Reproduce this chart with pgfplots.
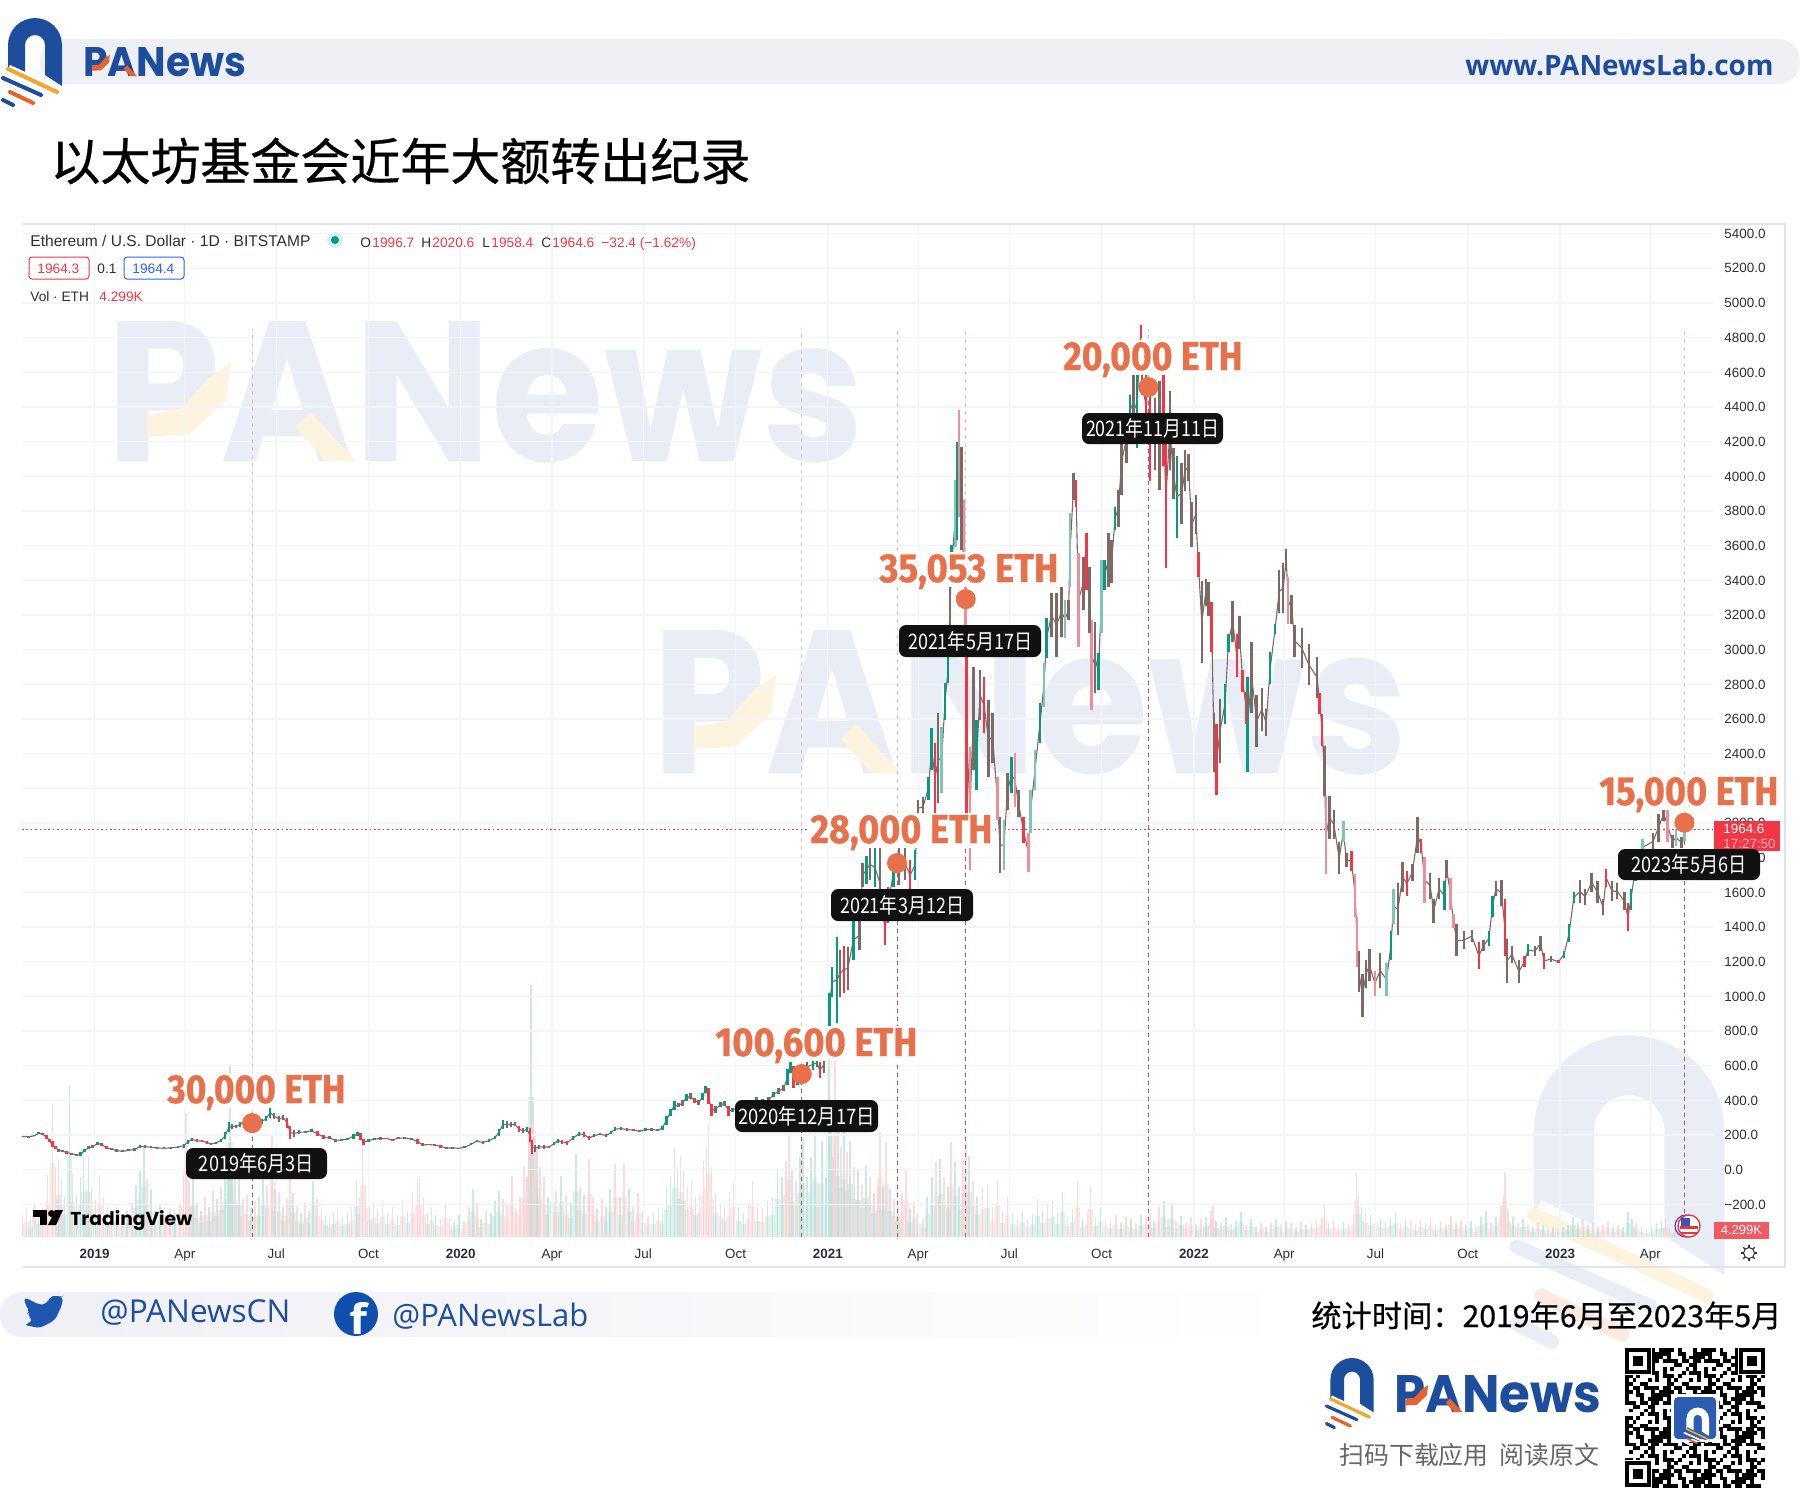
\documentclass[border=0pt]{standalone}
\usepackage{fontspec}
\usepackage{graphicx}
\usepackage{pgfplots}
\usepackage{pgfplotstable}
\pgfplotsset{compat=1.18}
\setmainfont{Liberation Sans}
\newfontfamily\cjk{Noto Sans CJK SC}
\newfontfamily\cjkm[FakeBold=0.6]{Noto Sans CJK SC}
\newfontfamily\pop{Poppins}
\newfontfamily\ethf[UprightFeatures={FakeBold=0.8},BoldFeatures={FakeBold=0.8}]{Fira Sans}
\newfontfamily\osans{Open Sans}
\definecolor{panblue}{HTML}{1D4E9E}
\definecolor{panyel}{HTML}{F2A62B}
\definecolor{panora}{HTML}{E9622B}
\definecolor{wmblue}{HTML}{E8EDF6}
\definecolor{wmyel}{HTML}{FDF3DE}
\definecolor{wmora}{HTML}{FCE9DF}
\definecolor{bandc}{HTML}{EFEFF6}
\definecolor{ethc}{HTML}{E8704A}
\definecolor{tvgreen}{HTML}{089981}
\definecolor{tvred}{HTML}{F23645}
\definecolor{tvbrown}{HTML}{7E6A64}
\definecolor{palered}{HTML}{EE8E98}
\definecolor{paleteal}{HTML}{7CC6B8}
\definecolor{volg}{HTML}{B5DFD8}
\definecolor{volr}{HTML}{F9CDCE}
\definecolor{gridc}{HTML}{F3F4F7}
\definecolor{dashs}{HTML}{C4525E}
\definecolor{dashf}{HTML}{E6BFC4}
\definecolor{tvtext}{HTML}{2A2E39}
\definecolor{framec}{HTML}{E0E3EB}
\definecolor{lblue}{HTML}{2962FF}
\definecolor{halo}{HTML}{D8F0EB}
\definecolor{timec}{HTML}{FFB3BA}
\definecolor{volbox}{HTML}{EF5A63}
\definecolor{flagp}{HTML}{8E24AA}
\definecolor{flagr}{HTML}{E53935}
\definecolor{flagb}{HTML}{3F51B5}
\definecolor{badge}{HTML}{111111}
\definecolor{twit}{HTML}{1D57B0}
\definecolor{fbc}{HTML}{0F4FB0}
\definecolor{subc}{HTML}{666666}
\definecolor{qrb}{HTML}{2B5DB5}
% fit text to width (px) and height (px); 1 px = 0.5 pt
\newcommand\fitwh[3]{\resizebox{\dimexpr#1pt/2\relax}{\dimexpr#2pt/2\relax}{#3}}
\newcommand\fitw[2]{\resizebox{\dimexpr#1pt/2\relax}{!}{#2}}
\newcommand\panlogo[7]{%
 \begin{scope}[shift={(#1,#2)},scale=#3]
 \fill[#4] (8,68)--(8,45) arc[start angle=180,end angle=360,radius=27] --(62,86)--(45,75)--(45,45) arc[start angle=360,end angle=180,radius=10] --(25,74)--cycle;
 \draw[#7,line width=#3*4.6pt] (8,69)--(57,92);
 \draw[#7,line width=#3*4.2pt] (3,78)--(41,95);
 \draw[#5,line cap=round,line width=#3*2pt] (8,69)--(57,92);
 \draw[#4,line cap=round,line width=#3*2pt] (3,78)--(41,95);
 \draw[#6,line cap=round,line width=#3*2pt] (10,92)--(33,103);
 \draw[#4,line cap=round,line width=#3*2pt] (3,100)--(13,105);
 \end{scope}}
% word mark: left x, baseline y, width and cap height in px
\newcommand\panword[6]{%
 \node[anchor=base west,inner sep=0pt,text=#5] at (#1,#2) {\fitwh{#3}{#4}{\pop\bfseries PANews}};
 \begin{scope}[shift={(#1,#2)},scale=#3/100]
 \fill[#6] (5.5,-3.2)--(11,-3.5)--(15.8,-8)--(16.5,-13)--(13.5,-11)--(10,-7)--(5.5,-6)--cycle;
 \fill[#6] (27,-6.5)--(33,0)--(29,0)--(25,-4.5)--cycle;
 \end{scope}}
\pgfplotstableread[row sep=\\]{
x l h k\\
-72 188 196 2\\ -66 186 194 2\\ -60 192 200 0\\ -56 205 216 0\\ -52 200 212 1\\ -48 176 203 1\\ -45 158 176 1\\ -42 130 165 1\\ -39 118 135 1\\ -36 105 122 2\\ -32 100 115 2\\ -28 92 108 1\\ -23 86 98 2\\ -18 80 92 2\\ -14 78 100 0\\ -10 100 122 0\\ -6 118 135 2\\ -2 125 142 2\\ 3 142 160 0\\ 7 138 155 1\\ 12 118 135 1\\ 17 112 126 2\\ 22 104 118 2\\ 28 100 112 2\\ 34 106 118 0\\ 40 110 124 2\\ 45 125 142 0\\ 50 128 140 2\\ 56 124 136 2\\ 62 120 132 2\\ 69 118 130 2\\ 76 120 132 2\\ 83 124 136 2\\ 89 128 150 0\\ 93 150 172 0\\ 97 165 185 0\\ 102 160 175 1\\ 107 158 172 2\\ 112 150 165 1\\ 116 140 156 2\\ 121 148 162 0\\ 126 160 178 0\\ 130 175 215 0\\ 134 215 275 0\\ 137 235 265 2\\ 141 240 260 2\\ 145 248 275 0\\ 149 258 282 2\\ 153 245 270 2\\ 158 245 270 1\\ 163 250 272 2\\ 167 265 295 0\\ 171 280 310 0\\ 175 300 360 0\\ 179 290 330 2\\ 184 275 310 2\\ 188 285 318 2\\ 192 240 300 1\\ 195 180 250 1\\ 199 190 230 2\\ 204 205 228 0\\ 210 210 225 2\\ 216 215 235 0\\ 222 195 222 1\\ 228 180 200 1\\ 234 175 192 2\\ 240 162 180 2\\ 246 165 178 0\\ 252 170 185 0\\ 258 180 205 0\\ 262 195 218 0\\ 265 170 210 1\\ 268 140 178 1\\ 273 158 178 0\\ 279 170 185 2\\ 285 170 190 2\\ 291 175 185 2\\ 297 165 180 1\\ 303 175 190 2\\ 309 178 188 2\\ 316 170 185 2\\ 322 150 175 1\\
327 135 152 2\\ 333 140 150 2\\ 339 138 148 2\\ 345 128 142 1\\ 351 120 130 2\\ 357 122 130 2\\ 363 120 128 2\\ 369 125 135 0\\ 375 140 152 0\\ 381 158 172 0\\ 387 150 165 1\\ 393 160 175 0\\ 399 175 195 0\\ 403 195 235 0\\ 407 235 285 0\\ 411 240 280 2\\ 415 245 275 2\\ 419 250 275 2\\ 423 215 255 1\\ 427 210 240 2\\ 431 220 245 0\\ 434 160 240 1\\ 436 90 170 1\\ 439 105 145 2\\ 443 120 145 2\\ 448 122 140 2\\ 453 125 138 2\\ 458 140 160 0\\ 462 155 180 0\\ 466 150 170 1\\ 471 145 165 1\\ 477 170 195 0\\ 483 195 220 0\\ 488 190 215 1\\ 493 170 195 1\\ 498 190 205 0\\ 504 198 212 2\\ 510 190 205 2\\ 515 205 225 0\\ 519 225 245 0\\ 525 230 245 2\\ 531 225 240 2\\ 537 222 235 1\\ 543 215 230 2\\ 549 225 240 0\\ 555 225 240 2\\ 561 222 235 2\\ 566 230 250 0\\ 570 260 310 0\\ 574 310 350 0\\ 578 345 395 0\\ 582 360 385 2\\ 586 365 400 2\\ 590 395 435 0\\ 594 410 440 2\\ 598 385 415 1\\ 602 375 400 2\\ 606 400 440 0\\ 609 440 485 0\\ 612 380 470 1\\ 615 310 380 1\\ 619 325 370 2\\ 624 360 390 0\\ 628 370 395 2\\ 632 310 370 1\\ 636 335 355 0\\ 641 350 365 0\\ 647 340 370 2\\ 655 370 395 0\\ 660 370 420 2\\ 666 385 410 0\\ 672 385 420 2\\ 677 420 450 0\\ 682 435 470 2\\ 687 455 490 2\\ 691 490 580 0\\ 694 560 620 0\\ 697 470 600 1\\ 701 490 560 0\\ 705 530 590 2\\ 710 565 620 0\\ 716 575 640 0\\ 720 590 645 0\\ 723 530 620 1\\ 727 560 650 2\\ 730 640 760 0\\
732.5 806 1017 0\\ 735 998 1171 0\\ 740 844 1344 0\\ 743 998 1267 2\\ 747 1020 1290 1\\ 751 1037 1287 2\\ 756.4 1210 1440 0\\ 762.4 1267 1440 2\\ 765.7 1633 1767 2\\ 769.5 1650 1810 0\\ 773 1671 1854 2\\ 778 1633 1854 0\\ 783 1440 1864 2\\ 788 1296 1460 1\\ 791 1421 1633 2\\ 796.3 1633 1787 0\\ 802 1640 1870 2\\ 808 1671 1864 2\\ 813 1613 1787 1\\ 818 1671 1844 0\\ 821 2037 2133 2\\ 826 2037 2152 2\\ 831.2 2133 2267 0\\ 834.5 2306 2546 0\\ 838 2056 2460 1\\ 841 2113 2633 2\\ 844.5 2171 2556 4\\ 847.8 2594 2806 0\\ 851 2806 2979 0\\
852.8 3133 3383 2\\ 854.5 3383 3604 0\\ 858.5 3594 3979 4\\ 860 3633 4200 0\\ 861.8 3767 4383 3\\ 864.5 3575 4171 2\\ 866 3363 3863 3\\ 868 3037 3363 3\\ 869.4 2056 2960 1\\ 872.7 1729 2440 3\\ 876 2306 2902 2\\ 879.4 2190 2594 0\\ 882.7 2594 2883 2\\ 886.7 2517 2844 1\\ 891 2267 2710 2\\ 895.3 2344 2633 2\\ 900 2017 2267 3\\ 902.6 1710 2037 2\\ 906.6 1729 2017 4\\ 910 2075 2287 2\\ 914 2171 2383 0\\ 917.6 2094 2402 3\\ 921 2037 2190 2\\ 926 1883 2037 1\\ 930.9 1719 1940 3\\ 933 1940 2190 4\\ 937.5 2190 2421 4\\ 942.5 2460 2690 0\\
946.5 2671 2921 4\\ 949 2950 3181 0\\ 954 3075 3325 2\\ 959 2960 3325 2\\ 964 3075 3363 2\\ 967.5 3065 3287 4\\ 971 3171 3287 2\\ 972.5 3363 3787 4\\ 976 3863 4017 2\\ 978.5 3825 3979 1\\ 980.8 3017 3556 3\\ 985.7 3229 3537 2\\ 989 3344 3671 1\\ 991.7 3094 3479 2\\ 994 2652 3171 3\\ 997.4 2748 3161 2\\ 1000.7 2767 2979 0\\ 1004 3094 3517 4\\ 1007 3344 3517 0\\ 1010.7 3363 3671 2\\ 1014 3383 3633 2\\ 1017.3 3690 3825 0\\ 1020.6 3710 3921 2\\
1024 3893 4285 2\\ 1029 4078 4367 2\\ 1032 4285 4470 0\\ 1035.6 4223 4635 2\\ 1039 4161 4614 0\\ 1043 4800 4872 1\\ 1044 4470 4604 2\\ 1048 4243 4594 1\\ 1052 3975 4532 1\\ 1057.2 4037 4450 2\\ 1061.6 3924 4553 2\\ 1065.5 4058 4594 1\\ 1068 3470 4285 1\\ 1072 4037 4491 2\\ 1075.5 3872 4161 2\\ 1079 3645 4120 0\\ 1083.8 3728 4078 2\\ 1087 3913 4151 2\\ 1090.5 3975 4130 2\\ 1093.8 3594 3852 2\\ 1097.8 3666 3893 2\\ 1100.4 3419 3563 1\\ 1103.8 2924 3398 2\\ 1107.8 3254 3408 2\\ 1110.4 3192 3388 2\\ 1113.7 2986 3274 1\\ 1116 2295 2635 2\\ 1118.7 2161 2573 1\\ 1122 2346 2717 2\\ 1127 2573 2800 0\\ 1130.3 2986 3089 0\\ 1134.6 3047 3284 2\\ 1138.7 2841 3089 1\\ 1141.3 3006 3192 2\\ 1144.6 2759 2882 1\\ 1148 2573 2759 1\\ 1149.3 2295 2841 0\\ 1153.6 2635 3047 2\\ 1158.6 2439 2738 2\\ 1163.6 2532 2779 2\\ 1168 2501 2656 2\\ 1172 2800 2986 0\\ 1176.9 3089 3151 0\\ 1181 3212 3460 2\\ 1185 3212 3501 2\\ 1188 3460 3583 2\\ 1190 3150 3418 3\\ 1193.5 3150 3315 2\\
1196.4 2959 3144 2\\ 1203.5 2897 3123 2\\ 1210.6 2794 3031 2\\ 1218.8 2722 2959 2\\ 1221.3 2630 2753 1\\ 1223.8 2444 2630 1\\ 1226 2156 2444 2\\ 1227.7 1704 2156 3\\ 1231 1910 2156 2\\ 1235.5 1910 2074 2\\ 1240.8 1704 1889 2\\ 1245 1889 2012 4\\ 1248 1745 1827 2\\ 1253 1725 1838 1\\ 1256.8 1457 1704 3\\ 1258.6 1169 1457 3\\ 1260.4 1025 1262 2\\ 1264 881 1128 2\\ 1267.5 1046 1210 2\\ 1271 1087 1272 2\\ 1276.4 1004 1149 3\\ 1281.7 1046 1251 2\\ 1288 1004 1190 4\\ 1292.4 1210 1375 0\\ 1295 1416 1622 4\\ 1299.5 1354 1653 2\\ 1304 1601 1776 2\\ 1308.4 1580 1724 1\\ 1313.7 1663 1766 2\\ 1319 1827 2033 2\\ 1322.6 1827 1910 1\\ 1326 1539 1807 3\\ 1331.5 1560 1714 2\\ 1335 1426 1560 2\\ 1340.4 1560 1683 2\\ 1345.7 1498 1663 0\\ 1348 1683 1786 2\\ 1351.7 1498 1683 3\\ 1354.6 1395 1477 3\\ 1358 1231 1416 2\\ 1365 1272 1375 2\\ 1373 1313 1385 2\\ 1380 1159 1313 1\\ 1384.8 1262 1323 2\\ 1390 1292 1375 0\\ 1393.7 1457 1580 0\\ 1397 1580 1663 2\\ 1402.6 1519 1673 2\\ 1406 1231 1560 1\\ 1408 1077 1334 2\\ 1413 1190 1292 2\\ 1420 1077 1210 2\\ 1425.6 1169 1231 1\\ 1429 1231 1303 0\\ 1436 1231 1292 2\\ 1441.6 1262 1350 2\\ 1445 1159 1251 1\\ 1452 1200 1231 2\\ 1459.4 1190 1210 1\\ 1465 1221 1262 0\\ 1470 1313 1416 0\\ 1474.7 1539 1601 0\\ 1480.8 1539 1673 2\\ 1486 1529 1622 2\\ 1492.5 1601 1714 2\\ 1498.5 1539 1663 2\\ 1504 1467 1560 2\\ 1507 1632 1735 1\\ 1513 1550 1663 2\\ 1518 1560 1653 2\\ 1525 1498 1601 2\\ 1528.7 1375 1539 1\\ 1531.6 1498 1622 0\\ 1536 1663 1807 0\\ 1543 1807 1910 4\\ 1553.6 1848 1940 2\\ 1559 1889 2054 2\\ 1564.3 2012 2095 2\\ 1568 1889 2095 3\\ 1573 1858 1930 2\\ 1576.7 1868 1961 4\\ 1582 1858 1920 2\\ 1585 1899 1961 4\\
}\pricetable
\pgfplotstableread[row sep=\\]{
x v k\\
-72 22 1\\ -68 28 1\\ -64 18 0\\ -60 34 1\\ -56 24 0\\ -52 30 1\\ -47 62 1\\ -42 134 1\\ -39 70 1\\ -36 76 0\\ -33 58 1\\ -30 40 0\\ -25 151 0\\ -22 64 1\\ -18 42 0\\ -14 60 0\\ -11 81 0\\ -8 48 1\\ -6 81 0\\ -3 50 1\\ 1 36 0\\ 5 62 1\\ 9 40 1\\ 13 30 0\\ 17 24 1\\ 22 30 0\\ 27 20 1\\ 32 26 0\\ 37 34 1\\ 41 52 0\\ 45 66 0\\ 49 91 0\\ 52 58 1\\ 56 48 0\\ 60 26 1\\ 65 32 0\\ 70 22 1\\ 75 28 1\\ 80 24 0\\ 85 34 1\\ 89 60 1\\ 91 124 1\\ 94 56 1\\ 98 60 0\\ 102 34 1\\ 106 26 0\\ 110 40 1\\ 114 30 0\\ 118 46 1\\ 122 38 0\\ 126 50 1\\ 130 62 0\\ 133 70 0\\ 135 172 0\\ 137 86 0\\ 140 64 1\\ 144 58 0\\ 148 38 1\\ 152 42 1\\ 156 30 0\\ 160 36 1\\ 164 40 0\\ 168 60 0\\ 172 52 1\\ 177 101 1\\ 180 48 0\\ 184 44 1\\ 188 30 0\\ 192 38 1\\ 195 61 1\\ 198 44 0\\ 202 30 1\\ 206 24 0\\ 210 34 1\\ 214 26 0\\ 218 56 0\\ 222 38 1\\ 226 30 1\\ 230 22 0\\ 234 18 1\\ 238 24 0\\ 242 30 1\\ 247 20 0\\ 252 24 0\\ 256 30 1\\ 261 56 0\\ 264 40 1\\ 267 94 1\\ 270 52 1\\ 274 30 0\\ 278 34 1\\ 282 26 0\\ 287 36 1\\ 292 24 0\\ 297 30 1\\ 302 22 0\\ 307 38 1\\ 312 26 0\\ 317 44 1\\ 322 58 1\\
324 58 1\\ 328 40 1\\ 332 24 0\\ 336 30 1\\ 340 22 0\\ 345 18 1\\ 350 34 1\\ 354 20 1\\ 358 14 0\\ 363 22 0\\ 368 16 1\\ 373 30 1\\ 377 48 0\\ 381 34 1\\ 385 18 0\\ 390 26 1\\ 395 24 0\\ 399 36 0\\ 403 46 0\\ 407 38 1\\ 411 32 1\\ 416 61 1\\ 420 28 1\\ 424 40 1\\ 428 71 1\\ 431 60 1\\ 433 110 1\\ 435 252 0\\ 437 140 1\\ 439 106 1\\ 441 90 0\\ 444 70 1\\ 448 60 1\\ 452 40 0\\ 456 64 0\\ 460 46 1\\ 465 61 0\\ 470 42 1\\ 475 34 0\\ 480 83 0\\ 484 50 1\\ 488 42 0\\ 493 78 1\\ 497 40 1\\ 501 28 0\\ 506 38 1\\ 510 30 0\\ 514 48 0\\ 519 73 1\\ 524 40 0\\ 528 73 1\\ 533 48 0\\ 537 30 1\\ 542 44 1\\ 547 26 0\\ 552 20 1\\ 557 24 0\\ 562 30 1\\ 566 24 0\\ 570 50 0\\ 574 60 0\\ 578 89 0\\ 581 70 0\\ 584 81 1\\ 587 66 0\\ 591 50 1\\ 595 56 1\\ 599 40 0\\ 603 44 1\\ 607 76 1\\ 610 90 1\\ 612 114 1\\ 615 70 1\\ 619 44 0\\ 624 34 1\\ 628 30 0\\ 633 40 1\\ 637 54 1\\ 642 30 0\\ 647 24 0\\ 652 32 1\\ 656 56 1\\ 661 30 0\\ 666 28 1\\ 671 36 0\\ 676 40 0\\ 681 69 0\\ 685 60 0\\ 689 76 1\\ 692 104 1\\ 695 66 0\\ 699 56 1\\ 703 80 0\\ 706 99 0\\ 710 60 0\\ 714 80 0\\ 718 104 0\\ 721 54 1\\ 725 96 0\\ 729 60 0\\ 732 184 0\\ 734 120 0\\ 736 80 1\\ 738 187 1\\
741 111 0\\ 744 90 1\\ 747 105 0\\ 750 85 1\\ 753 96 0\\ 757 70 1\\ 761 68 0\\ 765 52 1\\ 769 71 0\\ 773 60 1\\ 777 44 0\\ 781 50 1\\ 783 105 1\\ 786 50 0\\ 789 95 1\\ 793 48 0\\ 797 38 1\\ 801 30 0\\ 805 44 1\\ 809 66 1\\ 813 28 0\\ 817 35 1\\ 821 24 0\\ 826 18 1\\ 830 40 0\\ 835 60 0\\ 839 75 1\\ 843 78 0\\ 847 60 1\\ 851 50 0\\ 854 95 1\\ 858 75 0\\ 862 50 0\\ 866 78 1\\ 869 95 1\\ 872 81 0\\ 876 56 1\\ 880 40 0\\ 885 50 1\\ 890 53 0\\ 895 30 1\\ 900 56 1\\ 905 26 0\\ 910 40 1\\ 915 24 0\\ 920 18 1\\ 925 26 0\\ 930 18 1\\ 935 22 0\\ 940 38 0\\ 945 26 0\\ 950 32 1\\ 955 36 0\\ 960 24 0\\ 965 45 0\\ 970 20 1\\ 975 28 0\\ 980 55 1\\ 985 18 0\\ 990 24 1\\ 993 51 1\\ 998 20 0\\ 1003 30 0\\ 1008 18 1\\ 1013 16 0\\ 1018 22 1\\ 1023 14 0\\ 1028 20 1\\ 1033 18 0\\ 1038 14 1\\ 1043 22 0\\ 1048 20 1\\ 1052 24 1\\ 1056 16 0\\ 1061 30 1\\ 1066 36 0\\ 1070 18 1\\ 1074 34 0\\ 1078 16 1\\ 1083 21 0\\ 1088 14 1\\ 1093 20 1\\ 1098 12 0\\ 1103 18 1\\ 1108 20 0\\ 1113 26 1\\ 1115 31 1\\ 1118 16 0\\ 1123 14 1\\ 1128 20 0\\ 1133 12 1\\ 1138 16 0\\ 1143 25 0\\ 1148 12 1\\ 1153 18 0\\ 1158 10 0\\ 1163 14 1\\ 1168 10 0\\ 1173 14 1\\ 1178 18 0\\ 1183 12 1\\ 1188 16 0\\ 1193 14 1\\ 1198 10 0\\ 1203 15 1\\ 1208 12 0\\ 1213 14 1\\ 1218 18 1\\ 1223 20 1\\ 1226 33 1\\ 1230 14 0\\ 1235 16 1\\ 1240 12 1\\ 1245 15 0\\ 1250 14 1\\ 1255 22 1\\ 1258 65 1\\ 1260 41 0\\ 1263 30 0\\ 1267 25 1\\ 1272 22 0\\ 1277 26 1\\ 1282 18 0\\ 1287 16 1\\ 1292 20 0\\ 1297 25 0\\ 1302 14 1\\ 1307 18 0\\ 1312 16 1\\ 1317 12 0\\ 1322 18 1\\ 1327 14 0\\ 1332 20 1\\ 1337 12 0\\ 1342 16 1\\ 1347 12 0\\ 1352 21 1\\ 1357 14 0\\ 1362 16 1\\ 1367 12 0\\ 1372 16 0\\ 1377 10 1\\ 1382 20 0\\ 1387 26 0\\ 1392 14 1\\ 1397 20 0\\ 1402 31 1\\ 1405 42 1\\ 1406 65 1\\ 1409 28 1\\ 1414 20 0\\ 1419 14 1\\ 1424 18 0\\ 1429 12 1\\ 1434 10 0\\ 1439 14 1\\ 1444 12 0\\ 1449 8 1\\ 1454 10 0\\ 1459 8 1\\ 1464 10 0\\ 1469 12 0\\ 1474 20 0\\ 1479 14 0\\ 1484 18 1\\ 1489 12 0\\ 1494 14 1\\ 1499 10 0\\ 1504 12 1\\ 1509 16 1\\ 1514 10 0\\ 1519 12 1\\ 1524 10 0\\ 1529 25 0\\ 1533 18 0\\ 1537 14 1\\ 1542 10 0\\ 1547 8 1\\ 1552 10 0\\ 1557 14 0\\ 1562 16 0\\ 1566 18 1\\ 1570 10 1\\ 1575 8 0\\ 1580 8 1\\ 1585 6 1\\
}\voltable
\pgfplotsset{
 box/.style={at={(11pt,-618.5pt)},anchor=south west,scale only axis,width=845.5pt,height=506.5pt,xmin=-72.4,xmax=1613.5,clip=true},
 cand/.style n args={2}{draw=none,mark=none,unbounded coords=discard,restrict expr to domain={\thisrow{k}}{#1:#1},
   error bars/.cd,y dir=plus,y explicit,error mark=none,error bar style={draw=#2,solid,line width=1.25pt}},
 vbar/.style n args={2}{ycomb,draw=#2,line width=0.8pt,mark=none,opacity=0.7,unbounded coords=discard,restrict expr to domain={\thisrow{k}}{#1:#1}},
}
\begin{document}
\begin{tikzpicture}
\useasboundingbox (0pt,0pt) rectangle (904.5pt,-752.5pt);
% ---- backdrop: watermarks ----
\begin{scope}[x=0.5pt,y=-0.5pt]
 \panword{106}{461}{757}{140}{wmblue}{wmyel}
 \panword{652}{773}{755}{143}{wmblue}{wmyel}
 \panlogo{1506}{972}{3.52}{wmblue}{wmyel}{wmora}{white}
\end{scope}
% ---- volume ----
\begin{axis}[box,ymin=0,ymax=1013,hide axis]
 \addplot[vbar={1}{volr},line width=2.6pt,opacity=0.45] table[x=x,y expr=\thisrow{v}*0.55] {\voltable};
 \addplot[vbar={0}{volg},line width=2.6pt,opacity=0.45] table[x=x,y expr=\thisrow{v}*0.55] {\voltable};
 \addplot[vbar={1}{volr}] table[x=x,y=v] {\voltable};
 \addplot[vbar={0}{volg}] table[x=x,y=v] {\voltable};
\end{axis}
% ---- price ----
\begin{axis}[box,ymin=-388,ymax=5456,
  axis line style={draw=none},major tick length=0pt,
  grid=major,grid style={gridc,line width=0.6pt},
  xtick={0,90,181,273,365,456,547,639,731,821,912,1004,1096,1186,1277,1369,1461,1551},
  xticklabels={\bfseries 2019,Apr,Jul,Oct,\bfseries 2020,Apr,Jul,Oct,\bfseries 2021,Apr,Jul,Oct,\bfseries 2022,Apr,Jul,Oct,\bfseries 2023,Apr},
  ytick={-200,0,200,400,600,800,1000,1200,1400,1600,1800,2000,2200,2400,2600,2800,3000,3200,3400,3600,3800,4000,4200,4400,4600,4800,5000,5200,5400},
  yticklabels={−200.0,0.0,200.0,400.0,600.0,800.0,1000.0,1200.0,1400.0,1600.0,1800.0,2000.0,2200.0,2400.0,2600.0,2800.0,3000.0,3200.0,3400.0,3600.0,3800.0,4000.0,4200.0,4400.0,4600.0,4800.0,5000.0,5200.0,5400.0},
  yticklabel pos=right,
  tick label style={font=\fontsize{6.7}{8}\selectfont,text=tvtext},
  xticklabel style={yshift=-2.6pt},
  yticklabel style={xshift=2.2pt},
 ]
 % event lines
 \addplot[dashf,line width=0.5pt,dash pattern=on 2pt off 2pt] coordinates {(157,269)(157,4850)};
 \addplot[dashf,line width=0.5pt,dash pattern=on 2pt off 2pt] coordinates {(705,552)(705,4850)};
 \addplot[dashf,line width=0.5pt,dash pattern=on 2pt off 2pt] coordinates {(800,1769)(800,4850)};
 \addplot[dashf,line width=0.5pt,dash pattern=on 2pt off 2pt] coordinates {(868.5,3292)(868.5,4850)};
 \addplot[dashf,line width=0.5pt,dash pattern=on 2pt off 2pt] coordinates {(1050.5,4515)(1050.5,4850)};
 \addplot[dashf,line width=0.5pt,dash pattern=on 2pt off 2pt] coordinates {(1585,2002)(1585,4850)};
 \addplot[dashs,line width=0.4pt,dash pattern=on 2pt off 2pt] coordinates {(157,-388)(157,269)};
 \addplot[dashs,line width=0.4pt,dash pattern=on 2pt off 2pt] coordinates {(705,-388)(705,552)};
 \addplot[dashs,line width=0.4pt,dash pattern=on 2pt off 2pt] coordinates {(800,-388)(800,1769)};
 \addplot[dashs,line width=0.4pt,dash pattern=on 2pt off 2pt] coordinates {(868.5,-388)(868.5,3292)};
 \addplot[dashs,line width=0.4pt,dash pattern=on 2pt off 2pt] coordinates {(1050.5,-388)(1050.5,4515)};
 \addplot[dashs,line width=0.4pt,dash pattern=on 2pt off 2pt] coordinates {(1585,-388)(1585,2002)};
 % last price line
 \addplot[tvred,line width=0.5pt,dash pattern=on 0.8pt off 1.4pt] coordinates {(-72.4,1964.6)(1613.5,1964.6)};
 % candles
 \addplot[tvbrown,line width=0.55pt,mark=none] table[x=x,y expr=(\thisrow{l}+\thisrow{h})/2] {\pricetable};
 \addplot[cand={3}{palered}] table[x=x,y=l,y error plus expr=\thisrow{h}-\thisrow{l}] {\pricetable};
 \addplot[cand={4}{paleteal}] table[x=x,y=l,y error plus expr=\thisrow{h}-\thisrow{l}] {\pricetable};
 \addplot[cand={2}{tvbrown}] table[x=x,y=l,y error plus expr=\thisrow{h}-\thisrow{l}] {\pricetable};
 \addplot[cand={0}{tvgreen}] table[x=x,y=l,y error plus expr=\thisrow{h}-\thisrow{l}] {\pricetable};
 \addplot[cand={1}{tvred}] table[x=x,y=l,y error plus expr=\thisrow{h}-\thisrow{l}] {\pricetable};
\end{axis}
% ---- everything else, in reference pixels ----
\begin{scope}[x=0.5pt,y=-0.5pt]
 % header
 \fill[bandc,rounded corners=11pt] (40,39) rectangle (1800,84);
 \panlogo{0}{0}{1}{panblue}{panyel}{panora}{white}
 \panword{83}{76}{163}{29}{panblue}{panora}
 \node[anchor=base west,inner sep=0pt,text=panblue] at (1465,75) {\fitw{308}{\osans\bfseries www.PANewsLab.com}};
 \node[anchor=base west,inner sep=0pt] at (50,180) {\fitw{700}{\cjkm 以太坊基金会近年大额转出纪录}};
 % frame
 \draw[framec,line width=0.6pt] (23,224)--(1785,224)--(1785,1267)--(23,1267);
 % chart legend
 \node[anchor=base west,inner sep=0pt,text=tvtext] at (30,246) {\fitw{280}{Ethereum / U.S. Dollar · 1D · BITSTAMP}};
 \fill[halo] (335,240) circle [radius=8];
 \fill[tvgreen] (335,240) circle [radius=4];
 \begin{scope}[every node/.style={anchor=base west,inner sep=0pt,font=\fontsize{6.85}{8}\selectfont}]
 \node[text=tvtext] at (360,247) {O};
 \node[text=tvred] at (372,247) {1996.7};
 \node[text=tvtext] at (421,247) {H};
 \node[text=tvred] at (432,247) {2020.6};
 \node[text=tvtext] at (482,247) {L};
 \node[text=tvred] at (491,247) {1958.4};
 \node[text=tvtext] at (541,247) {C};
 \node[text=tvred] at (552,247) {1964.6};
 \node[text=tvred] at (601,247) {−32.4 (−1.62\%)};
 \node[text=tvtext] at (97,273) {0.1};
 \node[text=tvred] at (37,273) {1964.3};
 \node[text=lblue] at (132,273) {1964.4};
 \node[text=tvtext] at (30,301) {Vol · ETH};
 \node[text=tvred] at (99,301) {4.299K};
 \end{scope}
 \draw[tvred,rounded corners=1.5pt,line width=0.5pt] (29,257) rectangle (89,279);
 \draw[lblue,rounded corners=1.5pt,line width=0.5pt] (124,257) rectangle (184,279);
 % axis-side tags
 \fill[tvred] (1714,821) rectangle (1780,851);
 \node[anchor=base west,inner sep=0pt,text=white,font=\fontsize{6.7}{8}\selectfont] at (1723,833) {1964.6};
 \node[anchor=base west,inner sep=0pt,text=timec,font=\fontsize{6.7}{8}\selectfont] at (1723,848) {17:27:50};
 \fill[volbox] (1714,1222) rectangle (1769,1239);
 \node[anchor=center,inner sep=0pt,text=white,font=\fontsize{6.5}{8}\selectfont] at (1741.5,1230.5) {4.299K};
 % gear
 \draw[tvtext,line width=0.5pt] (1749,1253) circle [radius=5.5];
 \foreach \a in {0,45,...,315} \draw[tvtext,line width=0.6pt] (1749,1253)++(\a:5.5)--++(\a:2.5);
 % flag
 \draw[flagp,line width=0.6pt] (1686,1226) circle [radius=11];
 \fill[white] (1689,1226) circle [radius=11];
 \draw[flagr,line width=0.7pt] (1689,1226) circle [radius=11];
 \fill[flagr] (1680,1226) rectangle (1698,1229);
 \fill[flagr] (1681,1232) rectangle (1697,1234);
 \fill[flagb] (1681,1218) rectangle (1690,1226);
 % TradingView mark
 \fill[black] (33,1210) rectangle (47,1217);
 \fill[black] (40,1217) rectangle (47,1225);
 \fill[black] (51.5,1213.5) circle [radius=3.5];
 \fill[black] (55,1210)--(63,1210)--(56,1225)--(48,1225)--cycle;
 \node[anchor=base west,inner sep=0pt,text=black] at (70,1225) {\fitw{122}{\pop\bfseries TradingView}};
 % ETH labels, on white plates as in the reference
 \fill[white] (164,1073) rectangle (348,1108);
 \fill[white] (712,1026) rectangle (920,1061);
 \fill[white] (807,813) rectangle (995,848);
 \fill[white] (876,552) rectangle (1061,587);
 \fill[white] (1060,340) rectangle (1245,375);
 \fill[white] (1596,775) rectangle (1781,810);
 \begin{scope}[every node/.style={anchor=base west,inner sep=0pt,text=ethc}]
 \node at (167,1103) {\fitwh{178}{28}{\ethf\bfseries 30,000 ETH}};
 \node at (715,1056) {\fitwh{202}{28}{\ethf\bfseries 100,600 ETH}};
 \node at (810,843) {\fitwh{182}{28}{\ethf\bfseries 28,000 ETH}};
 \node at (879,582) {\fitwh{179}{28}{\ethf\bfseries 35,053 ETH}};
 \node at (1063,370) {\fitwh{179}{28}{\ethf\bfseries 20,000 ETH}};
 \node at (1599,805) {\fitwh{179}{28}{\ethf\bfseries 15,000 ETH}};
 \end{scope}
 % date badges
 \begin{scope}[every node/.style={anchor=center,inner sep=0pt,text=white}]
 \fill[badge,rounded corners=3.5pt] (186,1148) rectangle (327,1179);
 \node at (256.5,1163.5) {\fitwh{115}{18}{\cjk 2019年6月3日}};
 \fill[badge,rounded corners=3.5pt] (735,1100) rectangle (878,1132);
 \node at (806.5,1116) {\fitwh{137}{18}{\cjk 2020年12月17日}};
 \fill[badge,rounded corners=3.5pt] (831,889) rectangle (973,921);
 \node at (902,905) {\fitwh{124}{18}{\cjk 2021年3月12日}};
 \fill[badge,rounded corners=3.5pt] (899,625) rectangle (1041,657);
 \node at (970,641) {\fitwh{124}{18}{\cjk 2021年5月17日}};
 \fill[badge,rounded corners=3.5pt] (1082,413) rectangle (1223,444);
 \node at (1152.5,428.5) {\fitwh{133}{18}{\cjk 2021年11月11日}};
 \fill[badge,rounded corners=3.5pt] (1618,849) rectangle (1760,880);
 \node at (1689,864.5) {\fitwh{115}{18}{\cjk 2023年5月6日}};
 \end{scope}
 % footer
 \shade[left color=bandc,right color=white,rounded corners=11pt] (0,1292) rectangle (1300,1337);
 \fill[twit,rounded corners=2pt] (24,1297)--(40,1305)--(46,1304)--(52,1295)--(60,1297)--(63,1296)--(62,1305)--(55,1320)--(40,1328)--(24,1325)--(33,1321)--(27,1314)--(30,1312)--(25,1304)--cycle;
 \node[anchor=base west,inner sep=0pt,text=panblue] at (100,1322) {\fitw{190}{\osans @PANewsCN}};
 \fill[fbc] (356,1314) circle [radius=22];
 \node[anchor=center,inner sep=0pt,text=white] at (358,1318) {\fitwh{18}{32}{\osans\bfseries f}};
 \node[anchor=base west,inner sep=0pt,text=panblue] at (392,1326) {\fitw{196}{\osans @PANewsLab}};
 \node[anchor=base west,inner sep=0pt,text=black] at (1311,1327) {\fitw{470}{\cjkm 统计时间：2019年6月至2023年5月}};
 \panlogo{1324}{1343.6}{0.8}{panblue}{panyel}{panora}{white}
 \panword{1394}{1412}{207}{37}{panblue}{panora}
 \node[anchor=base west,inner sep=0pt,text=subc] at (1339,1464) {\fitw{260}{\cjk 扫码下载应用\hspace{0.45em}阅读原文}};
 % QR
 \foreach \i in {0,...,36}{\foreach \j in {0,...,36}{%
   \pgfmathtruncatemacro\q{mod(\i*\i+2*\j*\j+3*\i*\j+\i+2*\j,11)}%
   \ifnum\q<5 \fill[black] ({1625+\i*3.78},{1348+\j*3.78}) rectangle ++(3.9,3.9);\fi}}
 \foreach \ox/\oy in {1625/1348,1739/1348,1625/1461}{%
   \fill[white] (\ox-1,\oy-1) rectangle ++(28,28);
   \fill[black] (\ox,\oy) rectangle ++(26,26);
   \fill[white] (\ox+3.8,\oy+3.8) rectangle ++(18.4,18.4);
   \fill[black] (\ox+7.6,\oy+7.6) rectangle ++(10.8,10.8);}
 \fill[white,rounded corners=2pt] (1671,1394) rectangle (1719,1442);
 \fill[qrb,rounded corners=2pt] (1674,1397) rectangle (1716,1439);
 \panlogo{1683}{1400}{0.42}{white}{panyel}{panora}{qrb}
\end{scope}
% ---- event dots, above the plates ----
\begin{axis}[box,ymin=-388,ymax=5456,hide axis]
 \addplot[only marks,color=ethc,mark=*,mark size=4.8pt,mark options={solid,fill=ethc,draw=ethc},clip mode=individual] coordinates {(157,269)(705,552)(800,1769)(868.5,3292)(1050.5,4515)(1585,2002)};
\end{axis}
\end{tikzpicture}
\end{document}
